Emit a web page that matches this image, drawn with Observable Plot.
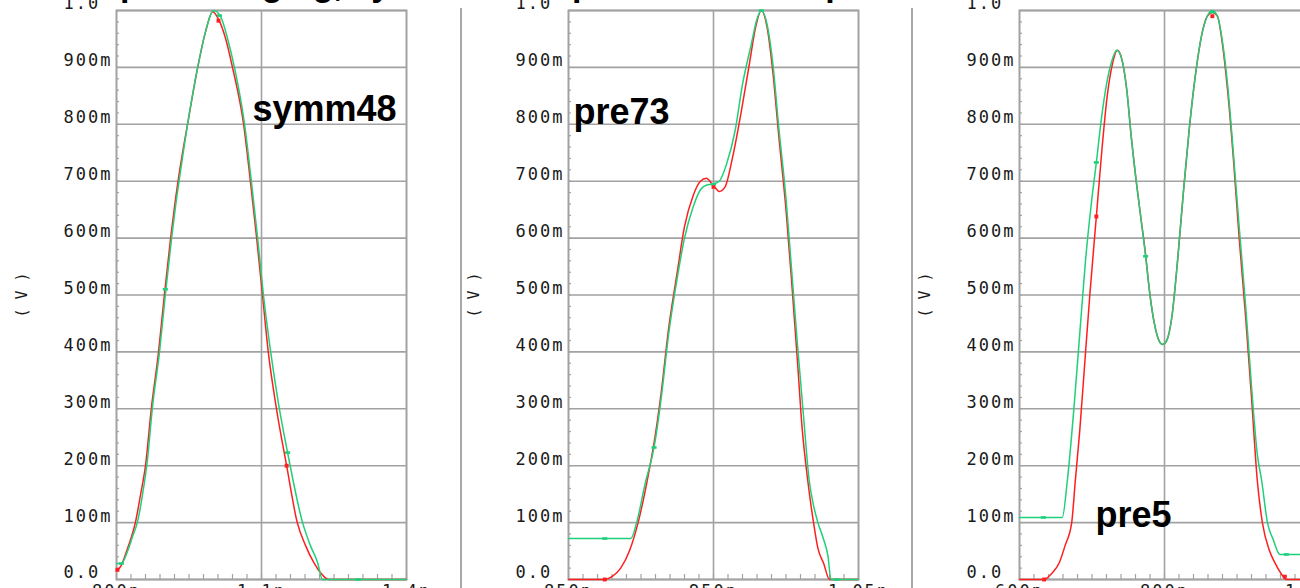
<!DOCTYPE html>
<html><head><meta charset="utf-8">
<script src="https://cdn.jsdelivr.net/npm/d3@7"></script>
<script src="https://cdn.jsdelivr.net/npm/@observablehq/plot@0.6"></script>
<style>
html,body{margin:0;padding:0;background:#fff;width:1300px;height:588px;overflow:hidden;}
#wrap{position:relative;width:1300px;height:588px;overflow:hidden;}
.panel{position:absolute;top:0;width:452px;height:610px;}
.panel svg{max-width:none !important;width:452px !important;height:610px !important;}
.title{position:absolute;top:-33px;font:bold 34px "Liberation Sans",Arial,sans-serif;white-space:nowrap;color:#000;line-height:34px;}
.sep{position:absolute;top:8px;height:600px;width:2px;background:#a8a8a8;}
[aria-label$="tick label"]{letter-spacing:2px;}
</style></head>
<body><div id="wrap"></div>
<script>
// ---- shared axis values ----
const yTicks = [0, 0.1, 0.2, 0.3, 0.4, 0.5, 0.6, 0.7, 0.8, 0.9, 1.0];
const yTickLabels = ["0.0","100m","200m","300m","400m","500m","600m","700m","800m","900m","1.0"];
const yAxisLabel = "( V )";

// ---- panel 1: symm48 ----
const p1Name = "symm48";
const p1Title = "pulse ringing, symm48";
const p1XTicks = [0.8, 1.1, 1.4];
const p1XTickLabels = ["800p", "1.1n", "1.4n"];
const p1RedT = [0.800,0.810,0.821,0.831,0.839,0.850,0.860,0.872,0.887,0.899,0.912,0.920,0.930,0.949,0.968,0.984,0.999,1.011,1.026,1.040,1.063,1.077,1.090,1.102,1.114,1.131,1.152,1.174,1.191,1.208,1.222,1.239,1.400];
const p1RedV = [0.015,0.025,0.05,0.075,0.10,0.15,0.20,0.30,0.40,0.50,0.60,0.655,0.715,0.81,0.90,0.962,0.998,0.985,0.95,0.90,0.80,0.70,0.60,0.50,0.40,0.30,0.20,0.10,0.06,0.03,0.012,0,0];
const p1GreenT = [0.800,0.810,0.823,0.833,0.843,0.854,0.864,0.874,0.889,0.901,0.914,0.922,0.932,0.949,0.968,0.984,1.001,1.015,1.030,1.044,1.065,1.079,1.092,1.104,1.119,1.135,1.154,1.185,1.201,1.216,1.226,1.400];
const p1GreenV = [0.028,0.028,0.05,0.075,0.10,0.15,0.21,0.30,0.40,0.50,0.60,0.655,0.715,0.81,0.90,0.962,1.0,0.99,0.95,0.90,0.80,0.70,0.60,0.50,0.40,0.31,0.223,0.10,0.06,0.03,0,0];
const p1RedMarkT = [0.802, 1.011, 1.152];
const p1RedMarkV = [0.017, 0.982, 0.20];
const p1GreenMarkT = [0.810, 0.901, 1.013, 1.154, 1.300];
const p1GreenMarkV = [0.028, 0.51, 0.991, 0.223, 0];

// ---- panel 2: pre73 ----
const p2Name = "pre73";
const p2Title = "pulse with 73% pre";
const p2XTicks = [0.85, 0.95, 1.05];
const p2XTickLabels = ["850p", "950p", "1.05n"];
const p2RedT = [0.850,0.875,0.880,0.886,0.892,0.898,0.904,0.909,0.914,0.919,0.925,0.930,0.936,0.941,0.945,0.950,0.954,0.958,0.963,0.969,0.975,0.979,0.983,0.987,0.991,0.995,1.000,1.004,1.008,1.011,1.015,1.019,1.022,1.026,1.030,1.050];
const p2RedV = [0,0,0.005,0.02,0.05,0.10,0.17,0.24,0.33,0.44,0.54,0.62,0.675,0.70,0.705,0.692,0.682,0.69,0.74,0.82,0.91,0.97,1.0,0.97,0.89,0.78,0.65,0.52,0.38,0.27,0.174,0.10,0.055,0.028,0,0];
const p2GreenT = [0.850,0.893,0.897,0.903,0.909,0.914,0.919,0.925,0.930,0.936,0.941,0.945,0.950,0.954,0.959,0.965,0.970,0.976,0.980,0.983,0.987,0.991,0.995,1.000,1.004,1.008,1.012,1.016,1.019,1.022,1.026,1.029,1.031,1.050];
const p2GreenV = [0.072,0.072,0.10,0.17,0.232,0.32,0.43,0.53,0.60,0.655,0.685,0.693,0.695,0.70,0.73,0.79,0.87,0.94,0.985,1.0,0.975,0.905,0.795,0.67,0.54,0.41,0.29,0.174,0.13,0.10,0.07,0.04,0,0];
const p2RedMarkT = [0.875, 0.950];
const p2RedMarkV = [0, 0.69];
const p2GreenMarkT = [0.875, 0.909, 0.950, 0.983, 1.035];
const p2GreenMarkV = [0.072, 0.232, 0.695, 1.0, 0];

// ---- panel 3: pre5 ----
const p3Name = "pre5";
const p3Title = "";
const p3XTicks = [0.6, 0.8, 1.0];
const p3XTickLabels = ["600p", "800p", "1.0n"];
const p3RedT = [0.600,0.634,0.644,0.655,0.663,0.672,0.677,0.683,0.690,0.697,0.706,0.714,0.721,0.728,0.735,0.741,0.748,0.754,0.761,0.768,0.774,0.779,0.786,0.793,0.797,0.803,0.810,0.818,0.826,0.834,0.843,0.851,0.859,0.866,0.873,0.880,0.887,0.895,0.903,0.912,0.920,0.928,0.935,0.945,0.952,0.961,0.968,1.000];
const p3RedV = [0,0,0.01,0.03,0.06,0.10,0.174,0.26,0.38,0.50,0.638,0.76,0.85,0.905,0.93,0.915,0.86,0.78,0.70,0.63,0.57,0.51,0.45,0.418,0.413,0.42,0.46,0.56,0.68,0.79,0.89,0.955,0.99,0.997,0.99,0.94,0.86,0.74,0.60,0.46,0.32,0.174,0.10,0.05,0.03,0.01,0,0];
const p3GreenT = [0.600,0.659,0.666,0.675,0.683,0.691,0.699,0.706,0.713,0.720,0.727,0.734,0.741,0.748,0.754,0.761,0.768,0.774,0.779,0.786,0.793,0.797,0.803,0.810,0.818,0.826,0.834,0.843,0.851,0.859,0.866,0.873,0.880,0.887,0.895,0.903,0.912,0.920,0.928,0.934,0.942,0.950,0.959,1.000];
const p3GreenV = [0.109,0.109,0.174,0.30,0.43,0.56,0.66,0.733,0.81,0.87,0.91,0.93,0.915,0.86,0.78,0.70,0.63,0.568,0.51,0.45,0.418,0.413,0.42,0.46,0.56,0.68,0.79,0.89,0.955,0.99,1.0,0.99,0.945,0.87,0.75,0.62,0.48,0.34,0.22,0.174,0.10,0.07,0.044,0.044];
const p3RedMarkT = [0.634, 0.706, 0.866, 0.966];
const p3RedMarkV = [0, 0.638, 0.99, 0.005];
const p3GreenMarkT = [0.633, 0.706, 0.774, 0.866, 0.968];
const p3GreenMarkV = [0.109, 0.733, 0.568, 0.997, 0.044];

// ---- styling ----
const RED = "#ff1e1e";
const GREEN = "#1fcf7a";
const GRID = "#a2a2a2";
const PANEL_W = 452;

const zip = (ts, vs) => ts.map((t, i) => ({t, v: vs[i]}));
const dash = {draw(ctx, size) { const w = Math.sqrt(size) * 1.3; ctx.rect(-w / 2, -1.3, w, 2.6); }};

const panels = [
  {left: 0, name: p1Name, title: p1Title, xTicks: p1XTicks, xLabels: p1XTickLabels, red: zip(p1RedT, p1RedV), green: zip(p1GreenT, p1GreenV), rm: zip(p1RedMarkT, p1RedMarkV), gm: zip(p1GreenMarkT, p1GreenMarkV), lab: {dx: 136, dy: 84.5}},
  {left: 452, name: p2Name, title: p2Title, xTicks: p2XTicks, xLabels: p2XTickLabels, red: zip(p2RedT, p2RedV), green: zip(p2GreenT, p2GreenV), rm: zip(p2RedMarkT, p2RedMarkV), gm: zip(p2GreenMarkT, p2GreenMarkV), lab: {dx: 5, dy: 87.5}},
  {left: 903, name: p3Name, title: p3Title, xTicks: p3XTicks, xLabels: p3XTickLabels, red: zip(p3RedT, p3RedV), green: zip(p3GreenT, p3GreenV), rm: zip(p3RedMarkT, p3RedMarkV), gm: zip(p3GreenMarkT, p3GreenMarkV), lab: {dx: 76, dy: 490.5}}
];

const wrap = document.getElementById("wrap");

panels.forEach((p, idx) => {
  const x0 = p.xTicks[0], x1 = p.xTicks[2];
  const xMinor = d3.range(21).map(i => x0 + (x1 - x0) * i / 20);
  const yMinor = d3.range(51).map(i => i / 50);
  const chart = Plot.plot({
    width: PANEL_W, height: 610,
    marginLeft: 116, marginRight: 46, marginTop: 10, marginBottom: 31,
    x: {domain: [x0, x1]},
    y: {domain: [0, 1]},
    style: {fontFamily: '"DejaVu Sans Mono", monospace', fontSize: "17px", color: "#1a1a1a", background: "transparent", overflow: "visible", maxWidth: "none"},
    marks: [
      Plot.gridY(yTicks, {stroke: GRID, strokeOpacity: 1, strokeWidth: 1.6}),
      Plot.gridX([p.xTicks[1]], {stroke: GRID, strokeOpacity: 1, strokeWidth: 1.6}),
      Plot.tickY(yMinor, {y: d => d, stroke: GRID, strokeWidth: 1.2, insetRight: 287}),
      Plot.tickX(xMinor, {x: d => d, stroke: GRID, strokeWidth: 1.2, insetTop: 564}),
      Plot.frame({stroke: GRID, strokeWidth: 2}),
      Plot.axisY(yTicks, {tickFormat: d => yTickLabels[yTicks.indexOf(d)], tickSize: 0, tickPadding: 53, textAnchor: "start", dy: -6.5, label: null}),
      Plot.axisX(p.xTicks, {tickFormat: d => p.xLabels[p.xTicks.indexOf(d)], tickSize: 0, tickPadding: 5, label: null}),
      Plot.text([yAxisLabel], {text: d => d, frameAnchor: "left", textAnchor: "middle", dx: -94, rotate: -90, fontSize: 15}),
      Plot.line(p.red, {x: "t", y: "v", stroke: RED, strokeWidth: 1.5, curve: "monotone-x"}),
      Plot.line(p.green, {x: "t", y: "v", stroke: GREEN, strokeWidth: 1.5, curve: "monotone-x"}),
      Plot.dot(p.rm, {x: "t", y: "v", symbol: "square", r: 2.2, fill: RED, stroke: null}),
      Plot.dot(p.gm, {x: "t", y: "v", symbol: dash, r: 2.2, fill: GREEN, stroke: null}),
      Plot.text([p.name], {text: d => d, frameAnchor: "top-left", dx: p.lab.dx, dy: p.lab.dy, textAnchor: "start", fontFamily: '"Liberation Sans", Arial, sans-serif', fontWeight: "bold", fontSize: 36, fill: "#000"})
    ]
  });
  const div = document.createElement("div");
  div.className = "panel";
  div.style.left = p.left + "px";
  div.appendChild(chart);
  wrap.appendChild(div);
  if (idx > 0) {
    const s = document.createElement("div");
    s.className = "sep";
    s.style.left = (p.left + 8) + "px";
    wrap.appendChild(s);
  }
  if (p.title) {
    const t = document.createElement("div");
    t.className = "title";
    t.style.left = (p.left + 120) + "px";
    t.textContent = p.title;
    wrap.appendChild(t);
  }
});
</script>
</body></html>
